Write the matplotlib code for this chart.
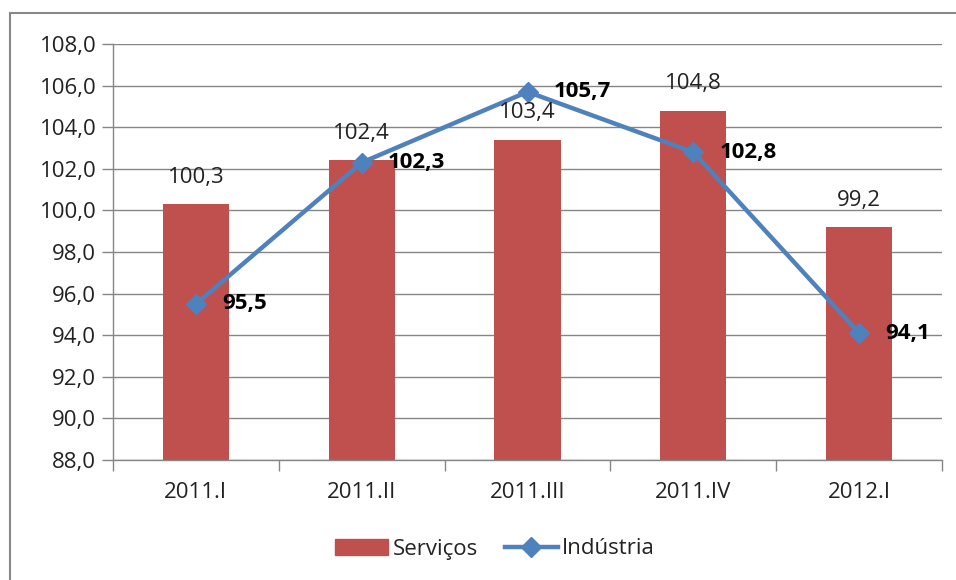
import matplotlib.pyplot as plt
import matplotlib.patches as mpatches
import numpy as np

periods = ["2011.I", "2011.II", "2011.III", "2011.IV", "2012.I"]
servicos = [100.3, 102.4, 103.4, 104.8, 99.2]
industria = [95.5, 102.3, 105.7, 102.8, 94.1]

RED = "#C0504D"
BLUE = "#4F81BD"
GRID = "#868686"
FS = 16

plt.rcParams["font.family"] = ["Open Sans", "DejaVu Sans"]

W, H = 956, 580
fig = plt.figure(figsize=(W / 100, H / 100), dpi=100)
ax = fig.add_axes([113 / W, 1 - 460 / H, (942 - 113) / W, (460 - 44) / H])

x = np.arange(len(periods))
ax.bar(x, np.array(servicos) - 88, bottom=88, width=0.4, color=RED, zorder=2, label="Serviços")
ax.plot(x, industria, color=BLUE, linewidth=3.2, marker="D", markersize=10,
        zorder=3, label="Indústria")

for xi, v in zip(x, servicos):
    ax.annotate(f"{v:.1f}".replace(".", ","), (xi, v), xytext=(0, 27),
                textcoords="offset pixels", ha="center", va="center",
                fontsize=FS, color="#222222")
for xi, v in zip(x, industria):
    ax.annotate(f"{v:.1f}".replace(".", ","), (xi, v), xytext=(26, 0),
                textcoords="offset pixels", ha="left", va="center",
                fontsize=FS, fontweight="bold", color="black")

ax.set_xlim(-0.5, len(periods) - 0.5)
ax.set_ylim(88, 108)
yt = np.arange(88, 108.1, 2)
ax.set_yticks(yt)
ax.set_yticklabels([f"{t:.1f}".replace(".", ",") for t in yt], fontsize=FS, color="#222222")
ax.set_xticks(x)
ax.set_xticklabels(periods, fontsize=FS, color="#222222")
ax.set_xticks(np.arange(-0.5, len(periods)), minor=True)
ax.tick_params(axis="x", which="major", length=0, pad=16)
ax.tick_params(axis="x", which="minor", length=8, color=GRID, width=1)
ax.tick_params(axis="y", length=8, color=GRID, width=1, pad=4)
ax.grid(axis="y", color=GRID, linewidth=1, zorder=0)
for s in ["top", "right"]:
    ax.spines[s].set_visible(False)
for s in ["left", "bottom"]:
    ax.spines[s].set_color(GRID)
    ax.spines[s].set_linewidth(1)

handles = [mpatches.Patch(color=RED, label="Serviços"),
           plt.Line2D([], [], color=BLUE, linewidth=3.2, marker="D", markersize=10,
                      label="Indústria")]
fig.legend(handles=handles, loc="center", bbox_to_anchor=(495 / W, 1 - 549 / H),
           ncol=2, frameon=False, fontsize=FS, handlelength=2.4,
           columnspacing=1.2, handletextpad=0.2, labelcolor="#222222")

# chart frame: only top and left edges fall inside the image
fig.patches.append(mpatches.Rectangle((10 / W, -0.1), 2, 1.1 - 13 / H,
                                      transform=fig.transFigure, fill=False,
                                      edgecolor="#888888", linewidth=1.5))

fig.savefig("out.png", dpi=100)
